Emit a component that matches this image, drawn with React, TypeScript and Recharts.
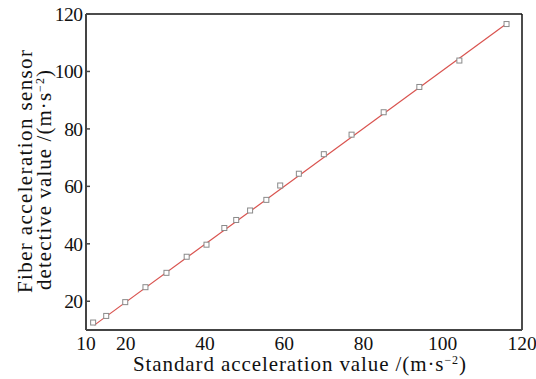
import {
  ComposedChart,
  Scatter,
  Line,
  XAxis,
  YAxis,
  ReferenceLine,
  Label,
} from "recharts";

// measured points (standard vs. fiber sensor), m·s^-2
const standardValues = [
  11.8, 15.1, 19.9, 25.0, 30.3, 35.4, 40.4, 44.9, 47.9, 51.4, 55.5, 59.0, 63.7,
  70.0, 77.0, 85.1, 94.1, 104.2, 116.1,
];
const sensorValues = [
  12.6, 14.9, 19.7, 24.9, 29.9, 35.5, 39.7, 45.5, 48.3, 51.6, 55.3, 60.3, 64.4,
  71.2, 78.0, 85.8, 94.6, 103.8, 116.5,
];

// linear fit end points
const fitX = [12.1, 116.6];
const fitY = [11.7, 117.1];

const xTicks = [10, 20, 40, 60, 80, 100, 120];
const yTicks = [20, 40, 60, 80, 100, 120];

const points = standardValues.map((x, i) => ({ x, y: sensorValues[i] }));
const fitLine = fitX.map((x, i) => ({ x, y: fitY[i] }));

const FONT = "'Liberation Serif', 'DejaVu Serif', serif";

const Square = (props: any) => {
  const { cx, cy } = props;
  return (
    <rect
      x={cx - 2.5}
      y={cy - 2.5}
      width={5}
      height={5}
      fill="#fff"
      stroke="#8a8a8a"
      strokeWidth={1}
    />
  );
};

const YTick = (props: any) => {
  const { x, y, payload } = props;
  return (
    <g>
      <line x1={x} y1={y} x2={x + 4} y2={y} stroke="#444" strokeWidth={1.5} />
      <text
        x={x - 3}
        y={y}
        dy="0.36em"
        textAnchor="end"
        fontSize={19.5}
        fontFamily={FONT}
        fill="#111"
        textLength={String(payload.value).length * 9.4}
      >
        {payload.value}
      </text>
    </g>
  );
};

const XTick = (props: any) => {
  const { x, y, payload } = props;
  return (
    <text
      x={x}
      y={y + 18}
      textAnchor="middle"
      fontSize={19.5}
      fontFamily={FONT}
      fill="#111"
    >
      {payload.value}
    </text>
  );
};

const XTitle = () => (
  <text
    x={299.5}
    y={371}
    textAnchor="middle"
    fontSize={21}
    fontFamily={FONT}
    fill="#111"
    textLength={333}
  >
    Standard acceleration value /(m·s
    <tspan fontSize={12} dy={-7}>−2</tspan>
    <tspan dy={7}>)</tspan>
  </text>
);

const YTitle = () => (
  <g fontSize={21} fontFamily={FONT} fill="#111">
    <text
      x={32}
      y={171.5}
      textAnchor="middle"
      transform="rotate(-90 32 171.5)"
      textLength={243}
    >
      Fiber acceleration sensor
    </text>
    <text
      x={51}
      y={180}
      textAnchor="middle"
      transform="rotate(-90 51 180)"
      textLength={220}
    >
      detective value /(m·s
      <tspan fontSize={12} dy={-7}>−2</tspan>
      <tspan dy={7}>)</tspan>
    </text>
  </g>
);

export default function App() {
  return (
    <div style={{ position: "absolute", left: 0, top: 0, background: "#fff" }}>
      <ComposedChart
        width={536}
        height={379}
        margin={{ top: 14, right: 14, bottom: 0, left: 0 }}
      >
        <XAxis
          dataKey="x"
          type="number"
          domain={[10, 120]}
          ticks={xTicks}
          interval={0}
          allowDataOverflow
          height={49}
          axisLine={{ stroke: "#444", strokeWidth: 2 }}
          tickLine={false}
          tickSize={0}
          tick={<XTick />}
        >
          <Label content={<XTitle />} />
        </XAxis>
        <YAxis
          type="number"
          domain={[10, 120]}
          ticks={yTicks}
          interval={0}
          allowDataOverflow
          width={86}
          axisLine={{ stroke: "#444", strokeWidth: 2 }}
          tickLine={false}
          tickSize={0}
          tickMargin={0}
          tick={<YTick />}
        >
          <Label content={<YTitle />} />
        </YAxis>
        <ReferenceLine y={120} stroke="#111" strokeWidth={1.5} />
        <ReferenceLine x={120} stroke="#111" strokeWidth={1.5} />
        <Line
          data={fitLine}
          dataKey="y"
          type="linear"
          stroke="#d9534f"
          strokeWidth={1.2}
          dot={false}
          isAnimationActive={false}
        />
        <Scatter
          data={points}
          dataKey="y"
          shape={<Square />}
          isAnimationActive={false}
        />
      </ComposedChart>
    </div>
  );
}
